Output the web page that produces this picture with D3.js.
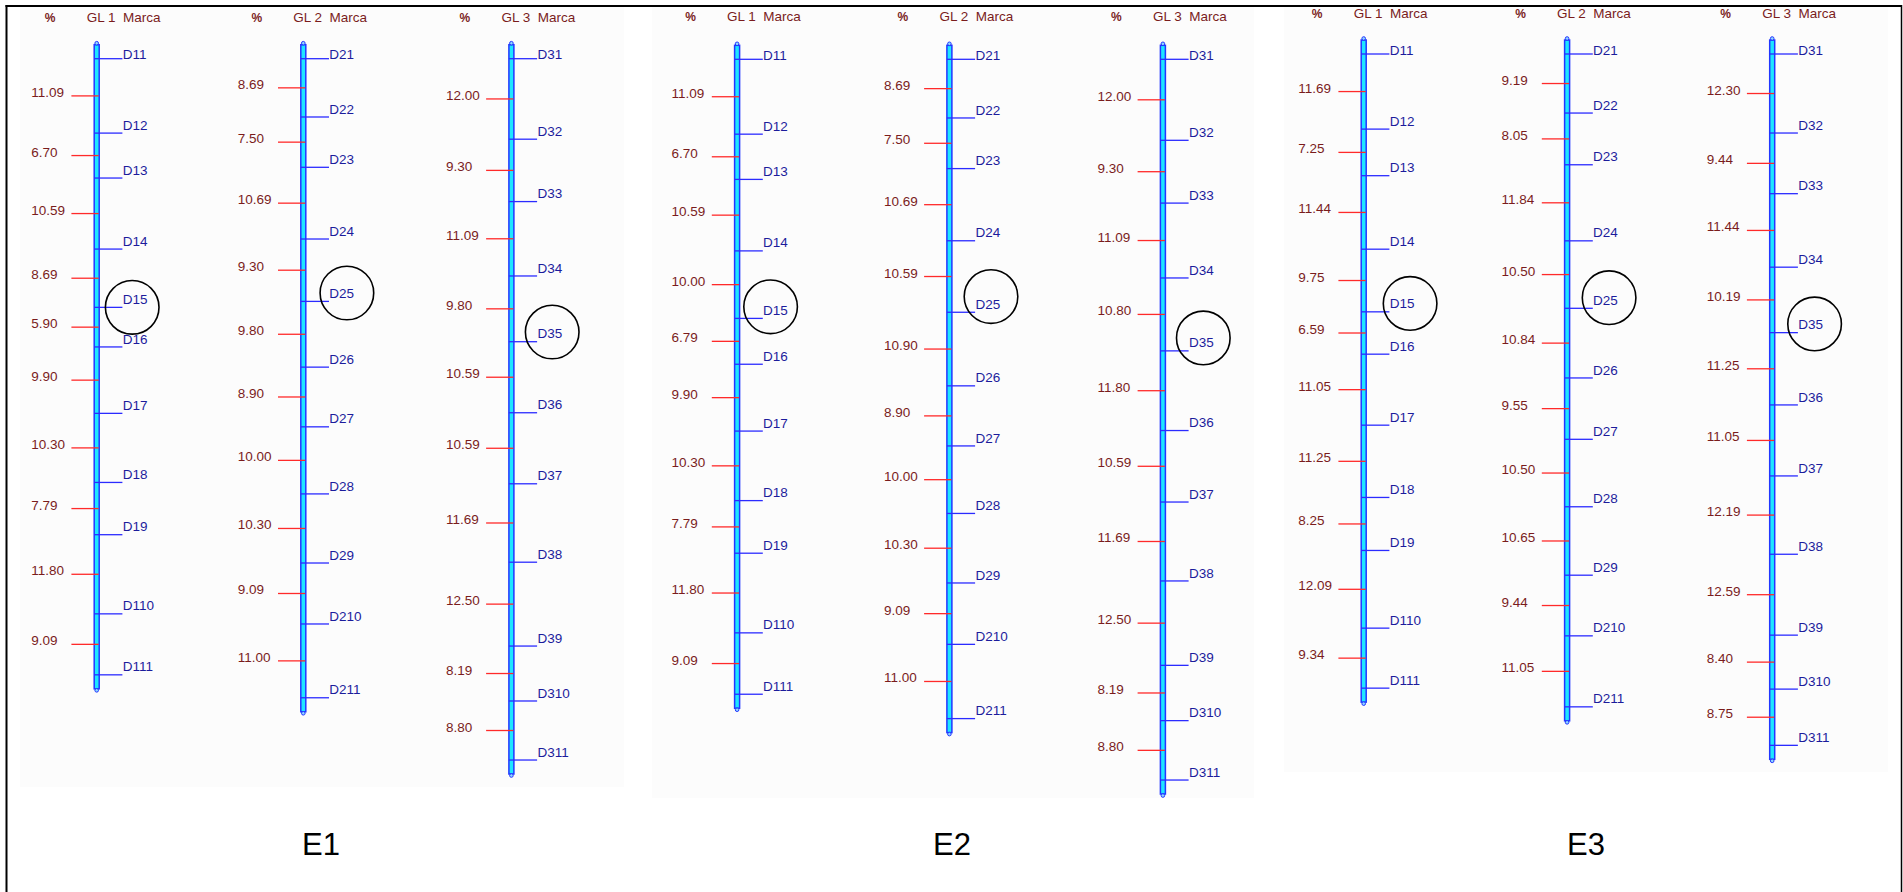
<!DOCTYPE html>
<html>
<head>
<meta charset="utf-8">
<script src="https://cdn.jsdelivr.net/npm/d3@7"></script>
<style>
  body { margin: 0; background: #fff; }
  text { font-family: "Liberation Sans", Arial, sans-serif; }
</style>
</head>
<body>
<div id="chart"></div>
<script>
// environments and linkage groups
var panelNames = ["E1", "E2", "E3"];
var groupNames = ["GL 1", "GL 2", "GL 3"];

// marker names for each group
var markersGL1 = ["D11", "D12", "D13", "D14", "D15", "D16", "D17", "D18", "D19", "D110", "D111"];
var markersGL2 = ["D21", "D22", "D23", "D24", "D25", "D26", "D27", "D28", "D29", "D210", "D211"];
var markersGL3 = ["D31", "D32", "D33", "D34", "D35", "D36", "D37", "D38", "D39", "D310", "D311"];
var circledMarkers = ["D15", "D25", "D35"];

// distances (%) between consecutive markers
var e1GL1 = [11.09, 6.70, 10.59, 8.69, 5.90, 9.90, 10.30, 7.79, 11.80, 9.09];
var e1GL2 = [8.69, 7.50, 10.69, 9.30, 9.80, 8.90, 10.00, 10.30, 9.09, 11.00];
var e1GL3 = [12.00, 9.30, 11.09, 9.80, 10.59, 10.59, 11.69, 12.50, 8.19, 8.80];
var e2GL1 = [11.09, 6.70, 10.59, 10.00, 6.79, 9.90, 10.30, 7.79, 11.80, 9.09];
var e2GL2 = [8.69, 7.50, 10.69, 10.59, 10.90, 8.90, 10.00, 10.30, 9.09, 11.00];
var e2GL3 = [12.00, 9.30, 11.09, 10.80, 11.80, 10.59, 11.69, 12.50, 8.19, 8.80];
var e3GL1 = [11.69, 7.25, 11.44, 9.75, 6.59, 11.05, 11.25, 8.25, 12.09, 9.34];
var e3GL2 = [9.19, 8.05, 11.84, 10.50, 10.84, 9.55, 10.50, 10.65, 9.44, 11.05];
var e3GL3 = [12.30, 9.44, 11.44, 10.19, 11.25, 11.05, 12.19, 12.59, 8.40, 8.75];

var markers = [markersGL1, markersGL2, markersGL3];
var distances = [[e1GL1, e1GL2, e1GL3], [e2GL1, e2GL2, e2GL3], [e3GL1, e3GL2, e3GL3]];

// layout of each panel (pixels)
var layout = [
  {bars: [96.7, 303.3, 511.4], y0: 58.7, perUnit: 6.708, headerY: 21.5, labelX: 321,
   bg: [20, 7, 604, 780], circles: [[35.5, 0], [43.6, -8.4], [40.8, -9.7]]},
  {bars: [737.1, 949.4, 1162.9], y0: 59.3, perUnit: 6.751, headerY: 21.2, labelX: 952,
   bg: [652, 7, 602, 791], circles: [[33.5, -11.6], [41.6, -15.7], [40.4, -13]]},
  {bars: [1363.7, 1567.1, 1772.2], y0: 54, perUnit: 6.425, headerY: 17.8, labelX: 1586,
   bg: [1284, 7, 604, 765], circles: [[46.4, -8.4], [42, -10.6], [42.4, -8.7]]}
];

var width = 1903, height = 892;

var svg = d3.select("#chart").append("svg")
    .attr("width", width)
    .attr("height", height);

// outer frame
svg.append("line").attr("x1", 6.5).attr("x2", 6.5).attr("y1", 5).attr("y2", height)
    .attr("stroke", "#000").attr("stroke-width", 2);
svg.append("line").attr("x1", 1901.5).attr("x2", 1901.5).attr("y1", 5).attr("y2", height)
    .attr("stroke", "#000").attr("stroke-width", 1.5);
svg.append("line").attr("x1", 5.5).attr("x2", 1902).attr("y1", 6).attr("y2", 6)
    .attr("stroke", "#000").attr("stroke-width", 2);

panelNames.forEach(function(name, p) {
  var lay = layout[p];
  var g = svg.append("g").attr("class", "panel");

  g.append("rect")
      .attr("x", lay.bg[0]).attr("y", lay.bg[1])
      .attr("width", lay.bg[2]).attr("height", lay.bg[3])
      .attr("fill", "#fcfcfc");

  var y = d3.scaleLinear()
      .domain([0, 100])
      .range([lay.y0, lay.y0 + 100 * lay.perUnit]);

  groupNames.forEach(function(gname, k) {
    drawGroup(g, lay, y, gname, k, markers[k], distances[p][k]);
  });

  // panel label
  svg.append("text")
      .attr("x", lay.labelX)
      .attr("y", 855)
      .attr("text-anchor", "middle")
      .style("font-size", "31px")
      .attr("fill", "#000")
      .text(name);
});

function drawGroup(g, lay, y, gname, k, names, dists) {
  var bx = lay.bars[k];
  var pos = Array.from(d3.cumsum([0].concat(dists)));
  var mids = dists.map(function(d, i) { return (pos[i] + pos[i + 1]) / 2; });

  var col = g.append("g").attr("class", "group");

  // header
  col.append("text")
      .attr("x", bx - 46.5).attr("y", lay.headerY)
      .attr("text-anchor", "middle")
      .attr("fill", "#7a1c1c")
      .style("font-size", "12px")
      .style("font-weight", "bold")
      .text("%");
  col.append("text")
      .attr("x", bx - 10).attr("y", lay.headerY)
      .attr("fill", "#7a1c1c")
      .style("font-size", "13.5px")
      .style("white-space", "pre")
      .text(gname + "  Marca");

  var top = y(pos[0]) - 14, bottom = y(pos[pos.length - 1]) + 14;

  // chromosome bar
  col.append("rect")
      .attr("x", bx - 2.5).attr("y", top)
      .attr("width", 5).attr("height", bottom - top)
      .attr("fill", "#1ee6ff")
      .attr("stroke", "#2236ff")
      .attr("stroke-width", 1.5);
  col.selectAll(".cap")
      .data([top - 1.5, bottom + 1.5])
    .enter().append("circle")
      .attr("class", "cap")
      .attr("cx", bx).attr("cy", function(d) { return d; })
      .attr("r", 1.8)
      .attr("fill", "#8fd8ff")
      .attr("stroke", "#2236ff")
      .attr("stroke-width", 1);

  // distance ticks (red) between markers
  col.selectAll(".dtick")
      .data(mids)
    .enter().append("line")
      .attr("class", "dtick")
      .attr("x1", bx - 25.3).attr("x2", bx + 2)
      .attr("y1", function(d) { return y(d); })
      .attr("y2", function(d) { return y(d); })
      .attr("stroke", "#ff2a2a")
      .attr("stroke-width", 1.3);
  col.selectAll(".dlabel")
      .data(dists)
    .enter().append("text")
      .attr("class", "dlabel")
      .attr("x", bx - 65.5)
      .attr("y", function(d, i) { return y(mids[i]) + 1; })
      .attr("fill", "#7a1c1c")
      .style("font-size", "13.5px")
      .text(function(d) { return d.toFixed(2); });

  // marker ticks (blue)
  col.selectAll(".mtick")
      .data(pos)
    .enter().append("line")
      .attr("class", "mtick")
      .attr("x1", bx - 2.5).attr("x2", bx + 25.7)
      .attr("y1", function(d) { return y(d); })
      .attr("y2", function(d) { return y(d); })
      .attr("stroke", "#2b2bff")
      .attr("stroke-width", 1.3);
  col.selectAll(".mlabel")
      .data(pos)
    .enter().append("text")
      .attr("class", "mlabel")
      .attr("x", bx + 26)
      .attr("y", function(d, i) { return i === 0 ? y(d) + 0.5 : y(d) - 3.4; })
      .attr("fill", "#1c1c9c")
      .style("font-size", "13.5px")
      .text(function(d, i) { return names[i]; });

  // circled marker
  names.forEach(function(m, i) {
    if (circledMarkers.indexOf(m) < 0) return;
    var off = lay.circles[k];
    col.append("circle")
        .attr("cx", bx + off[0])
        .attr("cy", y(pos[i]) + off[1])
        .attr("r", 26.8)
        .attr("fill", "none")
        .attr("stroke", "#000")
        .attr("stroke-width", 1.6);
  });
}
</script>
</body>
</html>
